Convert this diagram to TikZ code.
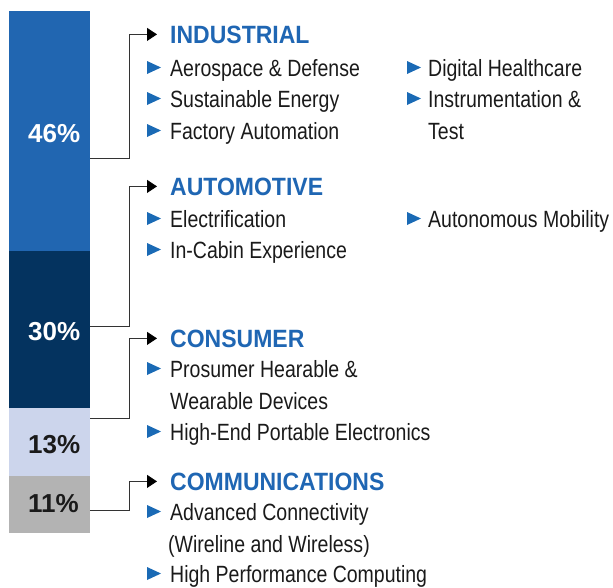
\documentclass[tikz,border=0pt]{standalone}
\usepackage{fontspec}
\setmainfont{Liberation Sans}[FakeStretch=0.83]
\newfontfamily\pctfont{Liberation Sans}
\newfontfamily\ttlfont{Liberation Sans}[FakeStretch=0.92]
\usetikzlibrary{arrows.meta}
\definecolor{segblue}{HTML}{2166B1}
\definecolor{segnavy}{HTML}{04335F}
\definecolor{seglav}{HTML}{CCD5EC}
\definecolor{seggray}{HTML}{B3B3B3}
\definecolor{titleblue}{HTML}{1F66B3}
\definecolor{bulblue}{HTML}{1A6AB5}
\definecolor{txt}{HTML}{1A1A1A}
\definecolor{linec}{HTML}{333333}
\newcommand{\bulat}[2]{\fill[bulblue] (#1,#2-15) -- (#1+14,#2-8.5) -- (#1,#2-2) -- cycle;}
\begin{document}
\begin{tikzpicture}[x=1pt,y=-1pt,
 seg/.style={draw=none,inner sep=0,outer sep=0,anchor=north west,minimum width=81pt},
 pct/.style={anchor=base west,inner sep=0,font=\pctfont\bfseries\fontsize{26}{26}\selectfont},
 ttl/.style={anchor=base west,inner sep=0,text=titleblue,font=\ttlfont\bfseries\fontsize{25}{25}\selectfont},
 item/.style={anchor=base west,inner sep=0,text=txt,font=\fontsize{23.5}{23.5}\selectfont},
 conn/.style={draw=linec,line width=0.9pt,-{Triangle[length=10pt,width=13pt,fill=black,color=black]}}]
\useasboundingbox (0,0) rectangle (613,587);
% bar
\node[seg,fill=segblue,minimum height=240pt] (b46) at (9,11) {};
\node[seg,fill=segnavy,minimum height=157pt] (b30) at (9,251) {};
\node[seg,fill=seglav,minimum height=68pt] (b13) at (9,408) {};
\node[seg,fill=seggray,minimum height=57pt] (b11) at (9,476) {};
\node[pct,text=white] (p46) at (28,142) {46\%};
\node[pct,text=white] (p30) at (28,340) {30\%};
\node[pct,text=txt] (p13) at (28,453) {13\%};
\node[pct,text=txt] (p11) at (28,512) {11\%};
% titles
\node[ttl] (t1) at (170,43) {INDUSTRIAL};
\node[ttl] (t2) at (170,195) {AUTOMOTIVE};
\node[ttl] (t3) at (170,347) {CONSUMER};
\node[ttl] (t4) at (170,490) {COMMUNICATIONS};
% connectors
\coordinate (s1) at (b46.east |- 0,158);
\coordinate (s2) at (b30.east |- 0,326);
\coordinate (s3) at (b13.east |- 0,418);
\coordinate (s4) at (b11.east |- 0,510);
\draw[conn] (s1) -- ++(39,0) |- ([xshift=-13pt]t1.west);
\draw[conn] (s2) -- ++(39,0) |- ([xshift=-13pt]t2.west);
\draw[conn] (s3) -- ++(39,0) |- ([xshift=-13pt]t3.west);
\draw[conn] (s4) -- ++(39,0) |- ([xshift=-13pt]t4.west);
% industrial items
\bulat{147}{76}\node[item] (i1) at (170,76) {Aerospace \& Defense};
\bulat{147}{107}\node[item] (i2) at (170,107) {Sustainable Energy};
\bulat{147}{139}\node[item] (i3) at (170,139) {Factory Automation};
\bulat{407}{76}\node[item] (i4) at (428,76) {Digital Healthcare};
\bulat{407}{107}\node[item] (i5) at (428,107) {Instrumentation \&};
\node[item] (i6) at (428,139) {Test};
% automotive
\bulat{147}{227}\node[item] (a1) at (170,227) {Electrification};
\bulat{147}{258}\node[item] (a2) at (170,258) {In-Cabin Experience};
\bulat{407}{227}\node[item] (a3) at (428,227) {Autonomous Mobility};
% consumer
\bulat{147}{377}\node[item] (c1) at (170,377) {Prosumer Hearable \&};
\node[item] (c2) at (170,409) {Wearable Devices};
\bulat{147}{440}\node[item] (c3) at (170,440) {High-End Portable Electronics};
% communications
\bulat{147}{520}\node[item] (m1) at (170,520) {Advanced Connectivity};
\node[item] (m2) at (168,552) {(Wireline and Wireless)};
\bulat{147}{582}\node[item] (m3) at (170,582) {High Performance Computing};
\end{tikzpicture}
\end{document}
